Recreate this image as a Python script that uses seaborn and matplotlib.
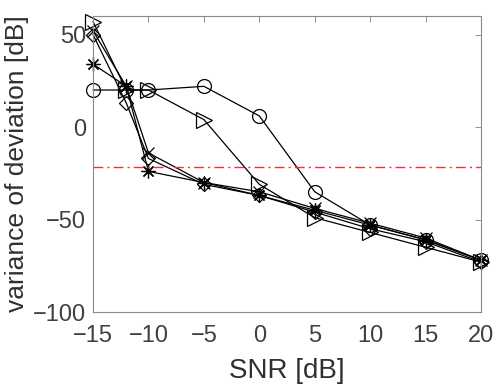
import numpy as np
import pandas as pd
import matplotlib
matplotlib.use("Agg")
import matplotlib.pyplot as plt
import seaborn as sns

snr = [-15, -12, -10, -5, 0, 5, 10, 15, 20]
circle_vals = [20, 20, 20, 22, 6, -35, -53, -61, -72]
triangle_vals = [57, 20, 20, 4, -31, -49, -57, -65, -73]
diamond_vals = [50, 13, -17, -31, -37, -46, -55, -62, -73]
x_vals = [52, 22, -14, -30, -35, -44, -52, -60, -72]
asterisk_vals = [34, 22, -24, -30, -37, -45, -53, -61, -72]
threshold = -21.5

xticks = [-15, -10, -5, 0, 5, 10, 15, 20]
yticks = [-100, -50, 0, 50]

sns.set_style("white")
plt.rcParams['font.family'] = ['Liberation Sans', 'DejaVu Sans']

fig = plt.figure(figsize=(4.99, 3.86), dpi=100)
ax = fig.add_axes([0.1864, 0.1917, 0.964 - 0.1864, 0.9585 - 0.1917])

series = [
    ("circle", circle_vals, "o", 10),
    ("triangle", triangle_vals, ">", 11),
    ("diamond", diamond_vals, "D", 7),
    ("x", x_vals, "x", 9),
    ("asterisk", asterisk_vals, (8, 2, 0), 10),
]
for name, vals, mk, ms in series:
    df = pd.DataFrame({"SNR": snr, "val": vals})
    sns.lineplot(data=df, x="SNR", y="val", ax=ax, color="black", lw=0.9,
                 marker=mk, markersize=ms, markerfacecolor="none",
                 markeredgecolor="black", markeredgewidth=0.9, clip_on=False)

ax.axhline(threshold, color="#f03040", lw=1.0, ls=(0, (7, 3, 1.5, 3)))

ax.set_xlim(-15, 20)
ax.set_ylim(-100, 60)
ax.set_xticks(xticks)
ax.set_yticks(yticks)
ax.set_xlabel("SNR [dB]", fontsize=20, color="#303030", labelpad=8)
ax.set_ylabel("variance of deviation [dB]", fontsize=19, color="#303030", labelpad=3)
ax.tick_params(direction="in", length=4, width=0.6, colors="#808080",
               labelcolor="#404040", labelsize=17, top=True, right=True)
ax.tick_params(axis="x", pad=9)
ax.tick_params(axis="y", pad=5)
for s in ax.spines.values():
    s.set_color("#8a8a8a")
    s.set_linewidth(0.8)
    s.set_visible(True)

fig.savefig("out.png", dpi=100)
